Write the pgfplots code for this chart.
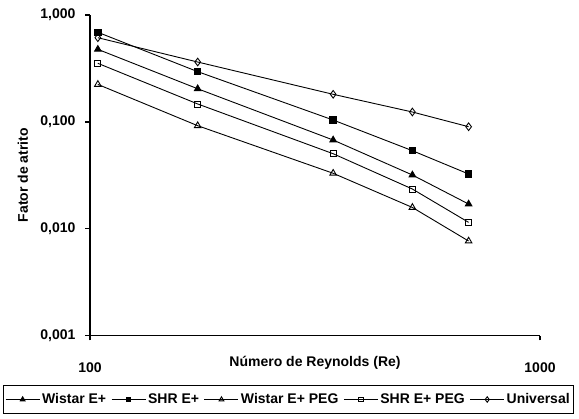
\documentclass[border=0pt]{standalone}
\usepackage{pgfplots}
\pgfplotsset{compat=1.18}
\usepackage{fontspec}
\setmainfont{Liberation Sans}
\begin{document}
\begin{tikzpicture}
\path[use as bounding box] (-90bp,-83.5bp) rectangle (489bp,335.5bp);
\begin{axis}[
  at={(0,0)}, anchor=south west,
  scale only axis, width=450bp, height=320.5bp,
  xmode=log, ymode=log,
  xmin=100, xmax=1000, ymin=0.001, ymax=1,
  axis lines*=left,
  axis line style={line width=1.6bp},
  xtick={100,1000}, xticklabels={100,1000},
  ytick={0.001,0.01,0.1,1}, yticklabels={{0,001},{0,010},{0,100},{1,000}},
  xminorticks=false, yminorticks=false,
  tick align=outside, major tick length=5bp,
  major tick style={line width=1.6bp, black},
  tick label style={font=\bfseries\fontsize{14bp}{16bp}\selectfont},
  xticklabel style={anchor=center, yshift=-27.5bp},
  yticklabel style={anchor=east, xshift=-6bp},
  xlabel={Número de Reynolds (Re)},
  ylabel={Fator de atrito},
  label style={font=\bfseries\fontsize{14bp}{16bp}\selectfont},
  xlabel style={at={(axis description cs:0.5,-0.0858)}, anchor=center},
  ylabel style={at={(axis description cs:-0.149,0.5)}, anchor=center},
  every axis plot/.append style={black, line width=0.9bp},
  legend columns=-1,
  legend style={at={(axis description cs:0.441,-0.1997)}, anchor=center,
    draw=black, line width=0.8bp, inner xsep=2bp, inner ysep=6bp,
    font=\bfseries\fontsize{14bp}{16bp}\selectfont,
    /tikz/every even column/.append style={column sep=3bp},
    nodes={inner xsep=2bp}},
  legend image code/.code={\draw[mark repeat=2,mark phase=2,#1,
    /tikz/every mark/.append style={scale=0.72}]
    plot coordinates {(0bp,0bp) (17bp,0bp) (34bp,0bp)};},
]
\addplot[mark=triangle*, mark size=3.8bp, mark options={fill=black}] coordinates {
(104.1,0.477) (173.5,0.204) (347,0.0676) (520.5,0.0318) (694,0.0170)};
\addlegendentry{Wistar E+}
\addplot[mark=square*, mark size=3.2bp, mark options={fill=black}] coordinates {
(104.1,0.689) (173.5,0.295) (347,0.104) (520.5,0.0537) (694,0.0325)};
\addlegendentry{SHR E+}
\addplot[mark=triangle, mark size=3.8bp, mark options={fill=white}] coordinates {
(104.1,0.224) (173.5,0.092) (347,0.033) (520.5,0.0158) (694,0.00766)};
\addlegendentry{Wistar E+ PEG}
\addplot[mark=square, mark size=3bp, mark options={fill=white}] coordinates {
(104.1,0.353) (173.5,0.147) (347,0.0503) (520.5,0.0235) (694,0.01146)};
\addlegendentry{SHR E+ PEG}
\addplot[mark=diamond, mark size=3.8bp, mark options={fill=white}] coordinates {
(104.1,0.613) (173.5,0.363) (347,0.181) (520.5,0.1236) (694,0.090)};
\addlegendentry{Universal}
\end{axis}
\end{tikzpicture}
\end{document}
